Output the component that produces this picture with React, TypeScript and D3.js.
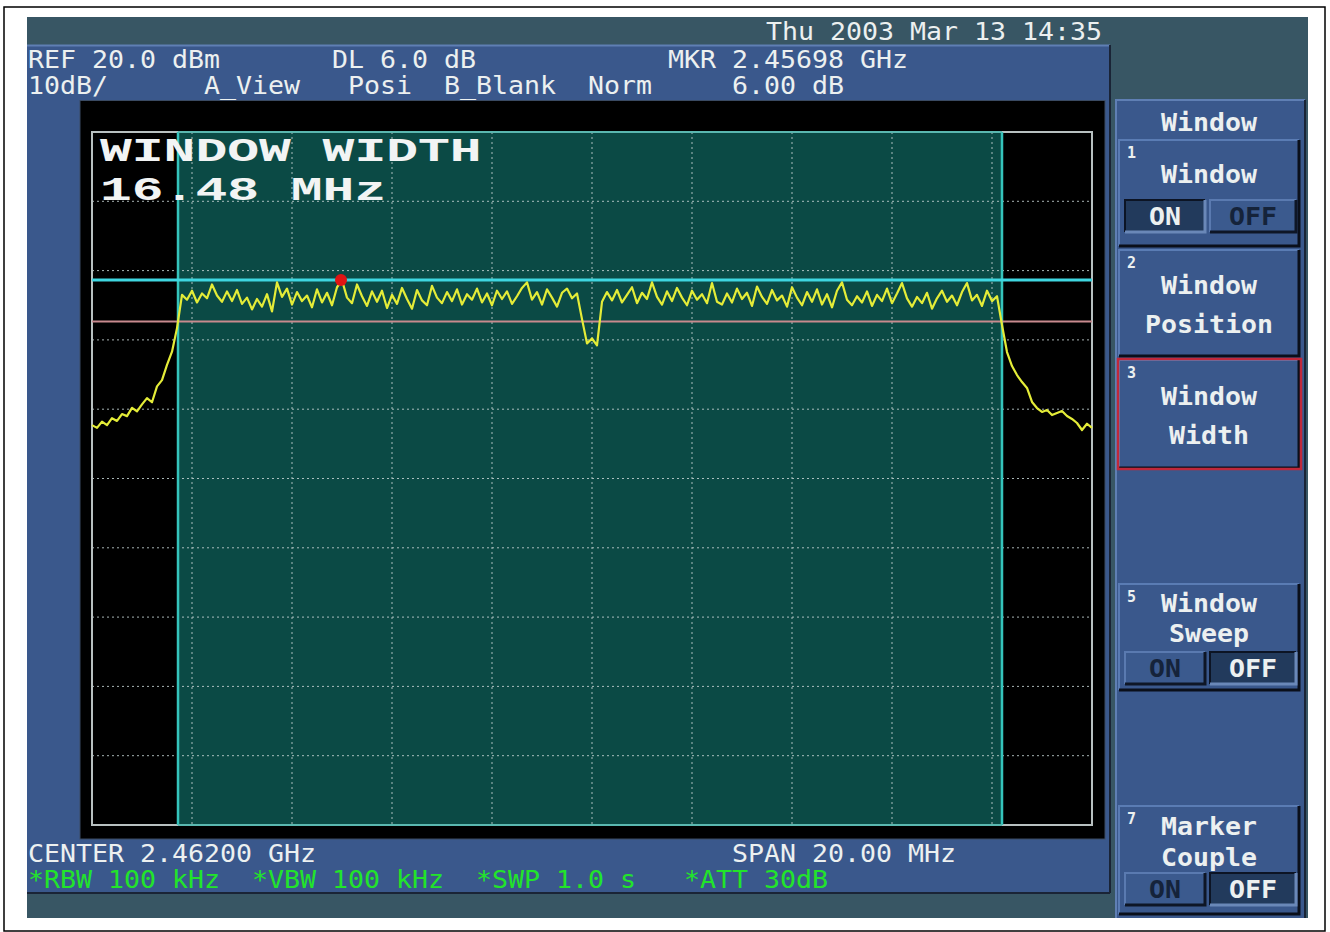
import React from 'react';
import * as d3 from 'd3';

// Sweep definition
const CENTER_GHZ = 2.462;
const SPAN_MHZ = 20;
const REF_LEVEL_DBM = 20;
const DB_PER_DIV = 10;
const DIVISIONS = 10;
const FREQ_START_GHZ = 2.452;
const FREQ_STEP_GHZ = 0.0001;

// Window / marker state
const WINDOW_START_GHZ = 2.45372;
const WINDOW_WIDTH_MHZ = 16.48;
const MARKER_GHZ = 2.45698;
const MARKER_DBM = -1.35;
const DISPLAY_LINE_DB = 6.0;

// Trace samples (dBm), one per 100 kHz step across the span
const traceDbm = [
  // lower skirt
  -22.3, -22.7, -21.8, -22.3, -21.3, -21.7, -20.7, -21.0, -19.8, -20.3,
  -19.3, -18.4, -19.0, -16.7, -15.8, -13.6, -11.7, -8.3,
  // in-band
  -3.5, -4.2, -2.9, -4.6, -3.3, -4.0, -2.0, -3.6, -4.5, -3.0,
  -4.4, -2.8, -4.8, -3.9, -5.6, -4.1, -5.2, -3.4, -5.9, -1.7,
  -3.8, -2.6, -4.9, -3.1, -4.4, -3.6, -5.3, -2.7, -4.6, -3.2,
  -5.0, -2.4, -1.4, -3.9, -4.7, -2.0, -3.7, -5.1, -3.0, -4.5,
  -2.9, -5.4, -3.5, -4.8, -2.5, -4.1, -5.5, -2.8, -4.3, -5.0,
  -2.2, -3.9, -4.7, -3.1, -4.4, -2.7, -4.9, -3.4, -4.2, -2.6,
  -4.6, -3.3, -5.0, -2.9, -4.1, -3.0, -4.8, -3.7, -2.5, -1.7,
  -4.2, -3.1, -4.9, -2.7, -3.9, -5.2, -3.2, -2.6, -4.0, -3.3,
  -7.0, -10.5, -9.8, -10.8, -4.5, -3.1, -4.3, -2.8, -4.6, -3.5,
  -2.4, -4.7, -3.2, -4.1, -1.7, -3.8, -4.9, -3.0, -4.4, -2.5,
  -3.9, -5.0, -2.9, -4.2, -3.4, -4.7, -1.8, -4.5, -4.9, -3.3,
  -4.6, -2.6, -4.1, -3.2, -5.1, -2.3, -3.8, -4.8, -2.8, -4.3,
  -3.6, -5.2, -2.4, -3.9, -5.0, -3.1, -4.5, -2.7, -4.9, -3.4,
  -5.3, -2.9, -1.7, -4.2, -5.0, -3.7, -4.6, -3.0, -5.1, -3.5,
  -4.4, -2.6, -4.7, -3.3, -1.8, -4.0, -5.2, -3.8, -4.7, -3.2,
  -5.5, -4.0, -2.9, -4.5, -3.6, -5.0, -3.1, -1.8, -4.3, -3.5,
  -5.1, -2.9, -4.4, -3.7,
  // upper skirt
  -7.85, -11.75, -13.77, -15.07, -16.08, -16.94, -18.96, -19.83, -20.4, -20.12,
  -20.84, -20.55, -20.26, -20.98, -21.41, -21.99, -23.0, -22.1, -22.7,
];

// Annotation text
const headerTop = ['REF 20.0 dBm', 'DL 6.0 dB', 'MKR 2.45698 GHz'];
const headerBottom = ['10dB/', 'A_View', 'Posi', 'B_Blank', 'Norm', '6.00 dB'];
const footerTop = ['CENTER 2.46200 GHz', 'SPAN 20.00 MHz'];
const footerBottom = ['*RBW 100 kHz', '*VBW 100 kHz', '*SWP 1.0 s', '*ATT 30dB'];
const dateText = 'Thu 2003 Mar 13 14:35';
const bigLabel = ['WINDOW WIDTH', '16.48 MHz'];

type Softkey = { num: string; lines: string[]; toggle?: 'ON' | 'OFF'; active?: boolean };
const softkeys: Softkey[] = [
  { num: '1', lines: ['Window'], toggle: 'ON' },
  { num: '2', lines: ['Window', 'Position'] },
  { num: '3', lines: ['Window', 'Width'], active: true },
  { num: '5', lines: ['Window', 'Sweep'], toggle: 'OFF' },
  { num: '7', lines: ['Marker', 'Couple'], toggle: 'OFF' },
];

const MONO = '"DejaVu Sans Mono", "Liberation Mono", monospace';
const CHAR_W = 16;

const BLUE = '#3a588c';
const SLATE = '#385664';
const WHITE = '#ecf0f0';
const GREEN = '#22e42a';

function Txt(props: {
  x: number; y: number; s: string; fill?: string; size?: number; anchor?: string; cw?: number;
  family?: string; weight?: string;
}) {
  const { x, y, s, fill = WHITE, size = 24, anchor = 'start', cw = CHAR_W, family = MONO, weight = 'normal' } = props;
  return (
    <text
      x={x}
      y={y}
      fill={fill}
      fontSize={size}
      fontFamily={family}
      fontWeight={weight}
      textAnchor={anchor}
      textLength={s.length * cw}
      lengthAdjust="spacingAndGlyphs"
      style={{ whiteSpace: 'pre' }}
    >
      {s}
    </text>
  );
}

function Bevel({ x, y, w, h, fill, light, dark, sw = 2 }: any) {
  return (
    <g>
      <rect x={x} y={y} width={w} height={h} fill={fill} />
      <path d={`M${x},${y + h} L${x},${y} L${x + w},${y}`} stroke={light} strokeWidth={sw} fill="none" />
      <path d={`M${x + w},${y} L${x + w},${y + h} L${x},${y + h}`} stroke={dark} strokeWidth={sw + 1} fill="none" />
    </g>
  );
}

function Toggle({ y, sel }: { y: number; sel: 'ON' | 'OFF' }) {
  const on = sel === 'ON';
  const boxes = [
    { label: 'ON', x: 1125, w: 80, selected: on },
    { label: 'OFF', x: 1210, w: 86, selected: !on },
  ];
  return (
    <g>
      {boxes.map((b) => (
        <g key={b.label}>
          <Bevel
            x={b.x}
            y={y}
            w={b.w}
            h={32}
            fill={b.selected ? '#223a5c' : '#3b5a8e'}
            light={b.selected ? '#0c1424' : '#5a7ab0'}
            dark={b.selected ? '#6a88b8' : '#0e1626'}
          />
          <Txt
            x={b.x + b.w / 2}
            y={y + 25}
            s={b.label}
            anchor="middle"
            size={24}
            fill={b.selected ? WHITE : '#15233a'}
            weight="bold"
          />
        </g>
      ))}
    </g>
  );
}

export default function App() {
  const x = d3
    .scaleLinear()
    .domain([CENTER_GHZ - SPAN_MHZ / 2000, CENTER_GHZ + SPAN_MHZ / 2000])
    .range([92, 1092]);
  const y = d3
    .scaleLinear()
    .domain([REF_LEVEL_DBM - DB_PER_DIV * DIVISIONS, REF_LEVEL_DBM])
    .range([825, 132]);

  const xTicks = d3.range(1, DIVISIONS).map((i) => x.domain()[0] + (i * SPAN_MHZ) / DIVISIONS / 1000);
  const yTicks = d3.range(1, DIVISIONS).map((i) => REF_LEVEL_DBM - i * DB_PER_DIV);

  const line = d3
    .line<number>()
    .x((_, i) => x(FREQ_START_GHZ + i * FREQ_STEP_GHZ))
    .y((d) => y(d))
    .curve(d3.curveLinear);

  const [x0, x1] = x.range();
  const [yb, yt] = y.range();
  const wx0 = x(WINDOW_START_GHZ);
  const wx1 = x(WINDOW_START_GHZ + WINDOW_WIDTH_MHZ / 1000);

  const headerTopX = [28, 332, 668];
  const headerBottomX = [28, 204, 348, 444, 588, 732];
  const footerTopX = [28, 732];
  const footerBottomX = [28, 252, 476, 684];

  const keyLayout = [
    { top: 140, h: 106, base: [183], tog: 200 },
    { top: 250, h: 106, base: [294, 333] },
    { top: 360, h: 108, base: [405, 444] },
    { top: 584, h: 106, base: [612, 642], tog: 652 },
    { top: 806, h: 108, base: [835, 866], tog: 873 },
  ];

  return (
    <svg
      width={1330}
      height={932}
      style={{ position: 'absolute', left: 0, top: 0, display: 'block', background: '#ffffff' }}
    >
      {/* page frame */}
      <rect x={4} y={7} width={1321} height={924} fill="#ffffff" stroke="#000" strokeWidth={1.5} />

      {/* instrument screen */}
      <rect x={27} y={17} width={1281} height={901} fill={SLATE} />
      <rect x={27} y={45} width={1083} height={848} fill={BLUE} />
      <line x1={27} x2={1110} y1={45.5} y2={45.5} stroke="#5f7fb4" strokeWidth={2} />
      <line x1={1110} x2={1110} y1={45} y2={893} stroke="#1a2436" strokeWidth={2} />
      <line x1={27} x2={1110} y1={893} y2={893} stroke="#1a2436" strokeWidth={2} />

      {/* softkey column */}
      <rect x={1115} y={100} width={190} height={818} fill={BLUE} />
      <line x1={1115} x2={1305} y1={100} y2={100} stroke="#5f7fb4" strokeWidth={2} />
      <line x1={1116} x2={1116} y1={100} y2={918} stroke="#5f7fb4" strokeWidth={2} />
      <line x1={1305} x2={1305} y1={100} y2={918} stroke="#1a2436" strokeWidth={2} />

      {/* graticule area */}
      <rect x={80} y={100.5} width={1025} height={738.5} fill="#000" stroke="#3a4a62" strokeWidth={1} />

      {/* date */}
      <Txt x={766} y={40} s={dateText} />

      {/* header annotation */}
      {headerTop.map((s, i) => (
        <Txt key={s} x={headerTopX[i]} y={68} s={s} />
      ))}
      {headerBottom.map((s, i) => (
        <Txt key={s} x={headerBottomX[i]} y={94} s={s} />
      ))}

      {/* window region */}
      <rect x={wx0} y={yt} width={wx1 - wx0} height={yb - yt} fill="#0b4a45" />

      {/* grid */}
      <g stroke="#c6d4d4" strokeWidth={1} strokeDasharray="2,3" opacity={0.85}>
        {xTicks.map((f) => (
          <line key={'gx' + f} x1={x(f)} x2={x(f)} y1={yt} y2={yb} />
        ))}
        {yTicks.map((v) => (
          <line key={'gy' + v} x1={x0} x2={x1} y1={y(v)} y2={y(v)} />
        ))}
      </g>
      <rect x={x0} y={yt} width={x1 - x0} height={yb - yt} fill="none" stroke="#b8c0c0" strokeWidth={2} />

      {/* window edges */}
      <line x1={wx0} x2={wx0} y1={yt} y2={yb} stroke="#35c4bc" strokeWidth={2.5} />
      <line x1={wx1} x2={wx1} y1={yt} y2={yb} stroke="#35c4bc" strokeWidth={2.5} />
      <line x1={wx0} x2={wx1} y1={yt} y2={yt} stroke="#5ab8b0" strokeWidth={2} />
      <line x1={wx0} x2={wx1} y1={yb} y2={yb} stroke="#5ab8b0" strokeWidth={2} />

      {/* marker level and display line */}
      <line x1={x0} x2={x1} y1={y(MARKER_DBM)} y2={y(MARKER_DBM)} stroke="#3fd6e0" strokeWidth={3} />
      <line
        x1={x0}
        x2={x1}
        y1={y(MARKER_DBM - DISPLAY_LINE_DB)}
        y2={y(MARKER_DBM - DISPLAY_LINE_DB)}
        stroke="#c88a8e"
        strokeWidth={2}
      />

      {/* trace */}
      <path d={line(traceDbm) || ''} fill="none" stroke="#e4ec38" strokeWidth={2.2} strokeLinejoin="round" />

      {/* marker */}
      <circle cx={x(MARKER_GHZ)} cy={y(MARKER_DBM)} r={6} fill="#e01414" />

      {/* window readout */}
      {bigLabel.map((s, i) => (
        <Txt
          key={s}
          x={100}
          y={161 + i * 39}
          s={s}
          size={34}
          cw={31.8}
          family='"Liberation Mono", "DejaVu Sans Mono", monospace'
          weight="bold"
          fill="#f2f4f4"
        />
      ))}

      {/* footer annotation */}
      {footerTop.map((s, i) => (
        <Txt key={s} x={footerTopX[i]} y={862} s={s} />
      ))}
      {footerBottom.map((s, i) => (
        <Txt key={s} x={footerBottomX[i]} y={888} s={s} fill={GREEN} />
      ))}

      {/* softkeys */}
      <Txt x={1209} y={131} s="Window" anchor="middle" weight="bold" />
      {softkeys.map((k, i) => {
        const L = keyLayout[i];
        return (
          <g key={k.num}>
            <Bevel x={1119} y={L.top} w={180} h={L.h} fill={BLUE} light="#5a7cb4" dark="#0a0f1a" sw={2} />
            {k.active && (
              <rect x={1118} y={L.top - 1} width={183} height={L.h + 2} fill="none" stroke="#c0283a" strokeWidth={2.5} />
            )}
            <text x={1127} y={L.top + 18} fill={WHITE} fontSize={15} fontFamily={MONO} fontWeight="bold">
              {k.num}
            </text>
            {k.lines.map((s, j) => (
              <Txt key={s + j} x={1209} y={L.base[j]} s={s} anchor="middle" weight="bold" />
            ))}
            {k.toggle && L.tog !== undefined && <Toggle y={L.tog} sel={k.toggle} />}
          </g>
        );
      })}
    </svg>
  );
}
